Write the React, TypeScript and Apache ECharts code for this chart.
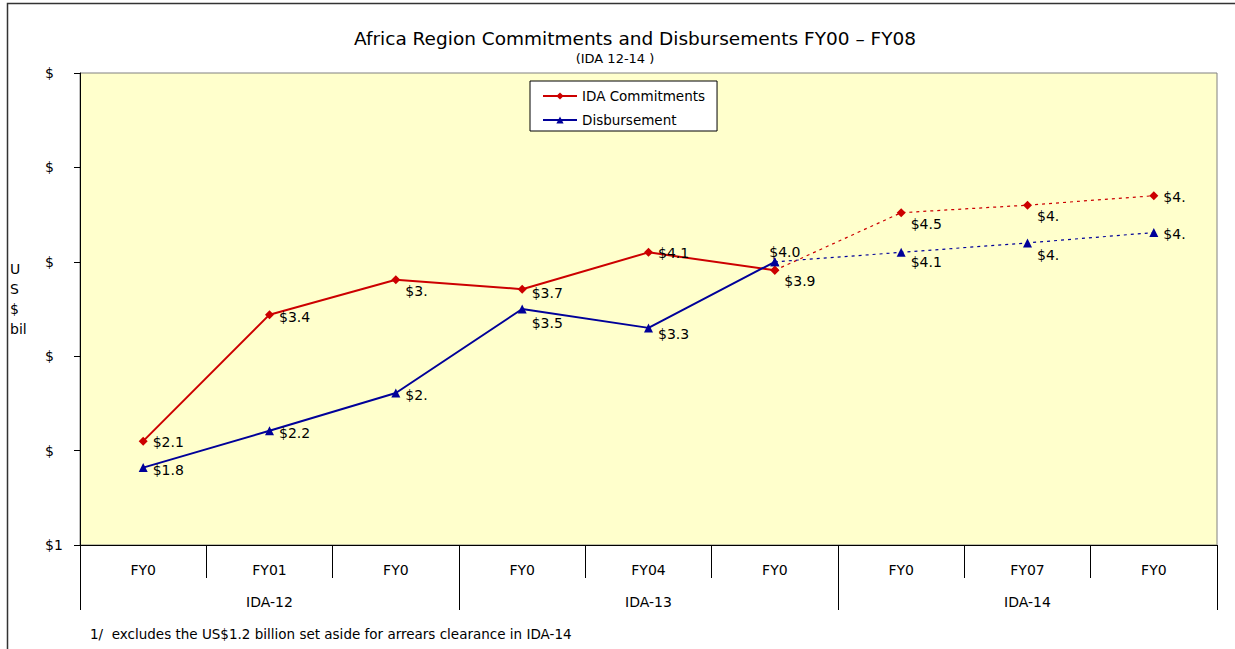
import React, { useEffect, useRef } from "react";
import * as echarts from "echarts";

const categories = ["FY0", "FY01", "FY0", "FY0", "FY04", "FY0", "FY0", "FY07", "FY0"];
const groups = ["IDA-12", "IDA-13", "IDA-14"];
const commitments = [2.1, 3.44, 3.81, 3.71, 4.1, 3.91, 4.52, 4.6, 4.7];
const disbursements = [1.82, 2.21, 2.61, 3.5, 3.3, 4.0, 4.1, 4.2, 4.31];
const commitLabels = ["$2.1", "$3.4", "$3.", "$3.7", "$4.1", "$3.9", "$4.5", "$4.", "$4."];
const disbLabels = ["$1.8", "$2.2", "$2.", "$3.5", "$3.3", "$4.0", "$4.1", "$4.", "$4."];
const yMin = 1;
const yMax = 6;
const yStep = 1;
const lastActualIndex = 5;
const titleText = "Africa Region Commitments and Disbursements FY00 \u2013 FY08";
const subtitleText = "(IDA 12-14 )";
const yName = ["U", "S", "$", "bil"];
const footnote = "1/  excludes the US$1.2 billion set aside for arrears clearance in IDA-14";

const RED = "#CC0000";
const BLUE = "#000099";
const FONT = "'DejaVu Sans', sans-serif";

export default function App() {
  const ref = useRef<HTMLDivElement>(null);

  useEffect(() => {
    if (!ref.current) return;
    const chart = echarts.init(ref.current, undefined, { renderer: "svg" });

    const commitDy = [1, 2, 11, 4, 1, 11, 11, 11, 1];
    const disbDy = [2, 2, 2, 14, 6, 0, 10, 12, 1];

    const labelBase = {
      show: true,
      position: "right" as const,
      distance: 5,
      color: "#000",
      fontSize: 14,
      fontFamily: FONT,
    };

    const mk = (
      vals: number[],
      labels: string[],
      dy: number[],
      projected: boolean,
      topIndex: number = -1
    ) =>
      vals.map((v, i) => {
        const inRange = projected ? i >= lastActualIndex : i <= lastActualIndex;
        if (!inRange) return "-";
        const showLabel = projected ? i > lastActualIndex : true;
        if (!showLabel) return { value: v, label: { show: false } };
        if (i === topIndex) {
          return {
            value: v,
            label: { ...labelBase, position: "top", distance: 3, offset: [10, 5], formatter: labels[i] },
          };
        }
        return { value: v, label: { ...labelBase, offset: [0, dy[i]], formatter: labels[i] } };
      });

    const graphics: any[] = [
      {
        type: "rect",
        shape: { x: 7.5, y: 3.5, width: 1400, height: 800 },
        style: { fill: "none", stroke: "#333", lineWidth: 1.5 },
        silent: true,
      },
      {
        type: "text",
        x: 635,
        y: 38,
        style: {
          text: titleText,
          fontSize: 18.5,
          fontFamily: FONT,
          fill: "#000",
          align: "center",
          verticalAlign: "middle",
        },
      },
      {
        type: "text",
        x: 615,
        y: 58,
        style: {
          text: subtitleText,
          fontSize: 13,
          fontFamily: FONT,
          fill: "#000",
          align: "center",
          verticalAlign: "middle",
        },
      },
      {
        type: "text",
        x: 90,
        y: 634,
        style: {
          text: footnote,
          fontSize: 13.5,
          fontFamily: FONT,
          fill: "#000",
          verticalAlign: "middle",
        },
      },
    ];
    yName.forEach((t, i) => {
      graphics.push({
        type: "text",
        x: 10,
        y: 269 + i * 20,
        style: { text: t, fontSize: 14, fontFamily: FONT, fill: "#000", verticalAlign: "middle" },
      });
    });

    chart.setOption({
      animation: false,
      backgroundColor: "#fff",
      grid: {
        left: 80,
        right: 18,
        top: 73,
        bottom: 104,
        show: true,
        backgroundColor: "#FFFFCC",
        borderColor: "#808080",
        borderWidth: 1,
        containLabel: false,
      },
      legend: {
        data: ["IDA Commitments", "Disbursement"],
        orient: "vertical",
        left: 530,
        top: 81,
        backgroundColor: "#fff",
        borderColor: "#000",
        borderWidth: 1,
        borderRadius: 0,
        padding: [8, 12, 4, 12],
        itemGap: 10,
        itemWidth: 34,
        itemHeight: 9,
        textStyle: { fontSize: 13.5, fontFamily: FONT, color: "#000" },
      },
      xAxis: [
        {
          type: "category",
          data: categories,
          boundaryGap: true,
          position: "bottom",
          axisLine: { show: true, lineStyle: { color: "#000", width: 1 } },
          axisTick: { show: true, length: 33, interval: 0, lineStyle: { color: "#000" } },
          axisLabel: { interval: 0, margin: 18, fontSize: 14, fontFamily: FONT, color: "#000" },
          splitLine: { show: false },
        },
        {
          type: "category",
          data: groups,
          boundaryGap: true,
          position: "bottom",
          axisLine: { show: false },
          axisTick: { show: true, length: 65, interval: 0, lineStyle: { color: "#000" } },
          axisLabel: { interval: 0, margin: 50, fontSize: 14, fontFamily: FONT, color: "#000" },
          splitLine: { show: false },
        },
      ],
      yAxis: {
        type: "value",
        min: yMin,
        max: yMax,
        interval: yStep,
        axisLine: { show: true, lineStyle: { color: "#000", width: 1 } },
        axisTick: { show: true, length: 6, lineStyle: { color: "#000" } },
        splitLine: { show: false },
        axisLabel: {
          margin: 35,
          align: "left",
          fontSize: 14,
          fontFamily: FONT,
          color: "#000",
          formatter: (v: number) => (v === yMin ? "$" + v : "$"),
        },
      },
      graphic: graphics,
      series: [
        {
          name: "IDA Commitments",
          type: "line",
          xAxisIndex: 0,
          data: mk(commitments, commitLabels, commitDy, false),
          symbol: "diamond",
          symbolSize: 9,
          itemStyle: { color: RED },
          lineStyle: { color: RED, width: 2 },
          z: 3,
        },
        {
          name: "Disbursement",
          type: "line",
          xAxisIndex: 0,
          data: mk(disbursements, disbLabels, disbDy, false, 5),
          symbol: "triangle",
          symbolSize: 9,
          itemStyle: { color: BLUE },
          lineStyle: { color: BLUE, width: 2 },
          z: 3,
        },
        {
          name: "IDA Commitments (projected)",
          type: "line",
          xAxisIndex: 0,
          data: mk(commitments, commitLabels, commitDy, true),
          symbol: "diamond",
          symbolSize: 9,
          itemStyle: { color: RED },
          lineStyle: { color: RED, width: 1.2, type: [3, 4] },
          z: 2,
        },
        {
          name: "Disbursement (projected)",
          type: "line",
          xAxisIndex: 0,
          data: mk(disbursements, disbLabels, disbDy, true),
          symbol: "triangle",
          symbolSize: 9,
          itemStyle: { color: BLUE },
          lineStyle: { color: BLUE, width: 1.2, type: [3, 4] },
          z: 2,
        },
      ],
    });

    return () => chart.dispose();
  }, []);

  return (
    <div
      ref={ref}
      style={{ position: "fixed", left: 0, top: 0, width: 1235, height: 649 }}
    />
  );
}
